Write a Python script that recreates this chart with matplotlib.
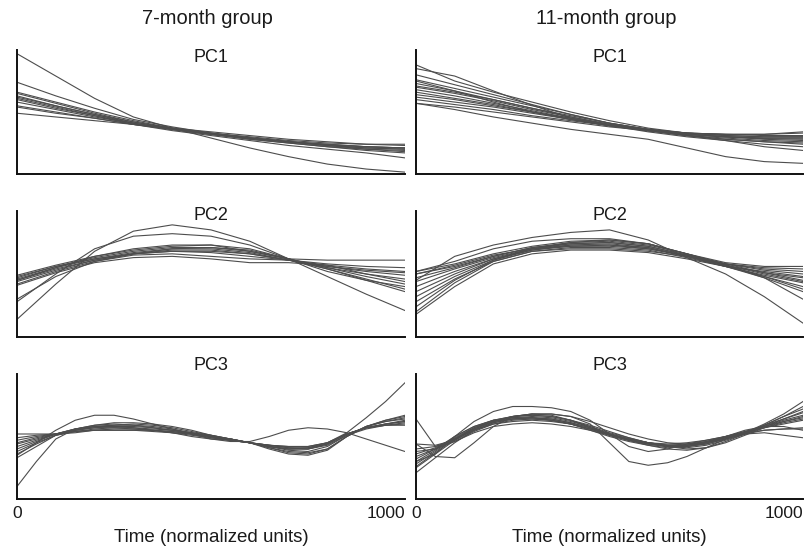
"""PC curves of the two age groups, one panel per component."""

import matplotlib
matplotlib.use('Agg')
import matplotlib.pyplot as plt
import numpy as np

plt.rcParams['font.family'] = ['Liberation Sans', 'DejaVu Sans']

# time samples (normalized units)
t_coarse = [0, 100, 200, 300, 400, 500, 600, 700, 800, 900, 1000]
t_fine = [0, 50, 100, 150, 200, 250, 300, 350, 400, 450, 500,
          550, 600, 650, 700, 750, 800, 850, 900, 950, 1000]

group_titles = ["7-month group", "11-month group"]
pc_titles = ["PC1", "PC2", "PC3"]
x_label = "Time (normalized units)"
tick_vals = [0, 1000]
tick_text = ["0", "1000"]

# curve values, 0 = axis line, 1 = top of y spine
pc1_7m = [
    [0.97, 0.79, 0.61, 0.46, 0.37, 0.29, 0.21, 0.14, 0.08, 0.04, 0.015],
    [0.74, 0.63, 0.53, 0.44, 0.38, 0.33, 0.29, 0.26, 0.24, 0.22, 0.21],
    [0.66, 0.58, 0.50, 0.43, 0.37, 0.33, 0.30, 0.27, 0.25, 0.24, 0.24],
    [0.65, 0.57, 0.49, 0.42, 0.37, 0.33, 0.29, 0.26, 0.23, 0.21, 0.20],
    [0.63, 0.55, 0.48, 0.42, 0.365, 0.325, 0.29, 0.26, 0.235, 0.22, 0.21],
    [0.62, 0.55, 0.48, 0.41, 0.36, 0.32, 0.28, 0.25, 0.22, 0.19, 0.17],
    [0.60, 0.53, 0.47, 0.41, 0.36, 0.32, 0.29, 0.26, 0.24, 0.22, 0.21],
    [0.58, 0.52, 0.46, 0.41, 0.36, 0.32, 0.28, 0.25, 0.22, 0.20, 0.19],
    [0.55, 0.50, 0.45, 0.40, 0.36, 0.32, 0.29, 0.26, 0.23, 0.21, 0.20],
    [0.54, 0.49, 0.45, 0.40, 0.36, 0.325, 0.29, 0.26, 0.23, 0.20, 0.18],
    [0.49, 0.46, 0.43, 0.40, 0.37, 0.34, 0.31, 0.28, 0.26, 0.24, 0.23],
    [0.61, 0.54, 0.47, 0.40, 0.35, 0.31, 0.27, 0.23, 0.20, 0.17, 0.13],
]

pc1_11m = [
    [0.85, 0.79, 0.67, 0.555, 0.45, 0.39, 0.35, 0.32, 0.30, 0.29, 0.29],
    [0.88, 0.75, 0.66, 0.58, 0.50, 0.43, 0.37, 0.33, 0.31, 0.30, 0.30],
    [0.80, 0.72, 0.64, 0.56, 0.48, 0.41, 0.36, 0.33, 0.32, 0.32, 0.34],
    [0.76, 0.69, 0.62, 0.55, 0.48, 0.41, 0.36, 0.32, 0.30, 0.29, 0.29],
    [0.73, 0.67, 0.60, 0.53, 0.47, 0.41, 0.36, 0.33, 0.31, 0.30, 0.30],
    [0.71, 0.66, 0.60, 0.53, 0.46, 0.40, 0.35, 0.31, 0.28, 0.26, 0.25],
    [0.70, 0.65, 0.59, 0.52, 0.46, 0.40, 0.355, 0.32, 0.30, 0.285, 0.28],
    [0.68, 0.63, 0.57, 0.51, 0.45, 0.40, 0.36, 0.33, 0.32, 0.31, 0.31],
    [0.66, 0.61, 0.56, 0.50, 0.45, 0.39, 0.35, 0.31, 0.28, 0.26, 0.24],
    [0.64, 0.60, 0.55, 0.50, 0.44, 0.39, 0.35, 0.32, 0.30, 0.28, 0.27],
    [0.62, 0.58, 0.54, 0.49, 0.44, 0.39, 0.34, 0.30, 0.27, 0.24, 0.22],
    [0.60, 0.56, 0.52, 0.47, 0.43, 0.39, 0.35, 0.31, 0.27, 0.22, 0.19],
    [0.57, 0.52, 0.46, 0.41, 0.36, 0.32, 0.28, 0.21, 0.14, 0.10, 0.086],
    [0.57, 0.54, 0.50, 0.46, 0.42, 0.38, 0.35, 0.33, 0.32, 0.32, 0.33],
    [0.75, 0.67, 0.58, 0.50, 0.44, 0.39, 0.35, 0.31, 0.29, 0.27, 0.26],
]

pc2_7m = [
    [0.14, 0.42, 0.68, 0.84, 0.89, 0.85, 0.76, 0.62, 0.48, 0.34, 0.21],
    [0.28, 0.50, 0.70, 0.80, 0.82, 0.80, 0.73, 0.62, 0.52, 0.45, 0.40],
    [0.45, 0.55, 0.64, 0.70, 0.73, 0.73, 0.68, 0.62, 0.61, 0.61, 0.61],
    [0.49, 0.57, 0.64, 0.69, 0.72, 0.73, 0.70, 0.62, 0.55, 0.50, 0.46],
    [0.47, 0.56, 0.63, 0.68, 0.71, 0.71, 0.68, 0.62, 0.55, 0.48, 0.42],
    [0.46, 0.55, 0.62, 0.67, 0.70, 0.70, 0.67, 0.61, 0.56, 0.52, 0.49],
    [0.45, 0.54, 0.61, 0.66, 0.68, 0.68, 0.66, 0.61, 0.54, 0.46, 0.38],
    [0.44, 0.53, 0.61, 0.66, 0.69, 0.69, 0.66, 0.61, 0.56, 0.53, 0.51],
    [0.42, 0.52, 0.60, 0.65, 0.66, 0.64, 0.62, 0.61, 0.57, 0.50, 0.44],
    [0.41, 0.51, 0.59, 0.63, 0.64, 0.62, 0.59, 0.59, 0.57, 0.54, 0.52],
    [0.30, 0.48, 0.60, 0.66, 0.70, 0.71, 0.69, 0.62, 0.54, 0.45, 0.36],
    [0.48, 0.56, 0.62, 0.66, 0.68, 0.67, 0.64, 0.61, 0.58, 0.56, 0.55],
]

pc2_11m = [
    [0.45, 0.64, 0.73, 0.79, 0.83, 0.85, 0.77, 0.63, 0.50, 0.32, 0.11],
    [0.52, 0.58, 0.66, 0.72, 0.76, 0.77, 0.74, 0.66, 0.58, 0.54, 0.52],
    [0.50, 0.56, 0.64, 0.71, 0.75, 0.76, 0.73, 0.66, 0.59, 0.56, 0.56],
    [0.47, 0.55, 0.64, 0.71, 0.74, 0.75, 0.72, 0.65, 0.57, 0.50, 0.44],
    [0.44, 0.54, 0.63, 0.70, 0.73, 0.74, 0.71, 0.64, 0.57, 0.51, 0.47],
    [0.40, 0.52, 0.62, 0.69, 0.72, 0.73, 0.71, 0.64, 0.56, 0.48, 0.40],
    [0.36, 0.50, 0.62, 0.70, 0.74, 0.75, 0.72, 0.65, 0.58, 0.53, 0.50],
    [0.32, 0.48, 0.61, 0.69, 0.73, 0.73, 0.70, 0.64, 0.56, 0.47, 0.36],
    [0.28, 0.46, 0.60, 0.68, 0.71, 0.71, 0.69, 0.63, 0.56, 0.49, 0.43],
    [0.24, 0.45, 0.61, 0.70, 0.75, 0.77, 0.74, 0.66, 0.57, 0.48, 0.38],
    [0.20, 0.43, 0.60, 0.68, 0.70, 0.70, 0.68, 0.64, 0.58, 0.55, 0.54],
    [0.52, 0.60, 0.70, 0.76, 0.78, 0.78, 0.74, 0.66, 0.57, 0.47, 0.30],
    [0.18, 0.40, 0.58, 0.66, 0.69, 0.69, 0.67, 0.62, 0.56, 0.52, 0.48],
    [0.50, 0.57, 0.65, 0.70, 0.72, 0.72, 0.70, 0.65, 0.58, 0.51, 0.45],
]

pc3_7m = [
    [0.52, 0.52, 0.52, 0.53, 0.55, 0.56, 0.56, 0.55, 0.54, 0.52, 0.50, 0.48, 0.45, 0.43, 0.42, 0.42, 0.45, 0.52, 0.57, 0.60, 0.62],
    [0.35, 0.45, 0.55, 0.63, 0.67, 0.67, 0.64, 0.60, 0.56, 0.52, 0.48, 0.47, 0.45, 0.42, 0.40, 0.41, 0.45, 0.53, 0.65, 0.78, 0.93],
    [0.40, 0.46, 0.52, 0.56, 0.58, 0.58, 0.57, 0.55, 0.53, 0.50, 0.48, 0.46, 0.46, 0.50, 0.55, 0.57, 0.56, 0.53, 0.48, 0.43, 0.38],
    [0.10, 0.30, 0.48, 0.56, 0.59, 0.60, 0.59, 0.57, 0.55, 0.52, 0.49, 0.47, 0.45, 0.41, 0.37, 0.36, 0.40, 0.50, 0.58, 0.63, 0.66],
    [0.44, 0.48, 0.52, 0.55, 0.57, 0.58, 0.58, 0.57, 0.55, 0.53, 0.50, 0.47, 0.45, 0.42, 0.39, 0.38, 0.42, 0.51, 0.58, 0.62, 0.65],
    [0.47, 0.50, 0.52, 0.54, 0.55, 0.55, 0.55, 0.55, 0.54, 0.52, 0.50, 0.48, 0.45, 0.42, 0.40, 0.40, 0.44, 0.52, 0.57, 0.60, 0.62],
    [0.38, 0.45, 0.51, 0.55, 0.57, 0.57, 0.56, 0.55, 0.53, 0.51, 0.49, 0.47, 0.45, 0.43, 0.42, 0.42, 0.45, 0.52, 0.57, 0.60, 0.63],
    [0.42, 0.47, 0.52, 0.56, 0.59, 0.61, 0.61, 0.60, 0.58, 0.55, 0.51, 0.48, 0.45, 0.40, 0.36, 0.35, 0.39, 0.50, 0.58, 0.62, 0.64],
    [0.36, 0.44, 0.51, 0.54, 0.55, 0.55, 0.55, 0.54, 0.53, 0.52, 0.50, 0.48, 0.45, 0.43, 0.41, 0.41, 0.44, 0.52, 0.57, 0.59, 0.60],
    [0.49, 0.51, 0.52, 0.55, 0.58, 0.59, 0.59, 0.58, 0.56, 0.53, 0.50, 0.47, 0.45, 0.41, 0.38, 0.37, 0.40, 0.50, 0.58, 0.63, 0.67],
    [0.33, 0.42, 0.51, 0.54, 0.56, 0.57, 0.57, 0.56, 0.55, 0.53, 0.51, 0.48, 0.45, 0.43, 0.41, 0.40, 0.43, 0.51, 0.56, 0.59, 0.61],
    [0.45, 0.49, 0.52, 0.56, 0.58, 0.59, 0.60, 0.59, 0.57, 0.54, 0.51, 0.48, 0.45, 0.42, 0.40, 0.40, 0.44, 0.52, 0.57, 0.59, 0.59],
]

pc3_11m = [
    [0.30, 0.36, 0.50, 0.62, 0.70, 0.74, 0.74, 0.73, 0.70, 0.63, 0.52, 0.42, 0.38, 0.40, 0.44, 0.47, 0.50, 0.54, 0.58, 0.63, 0.67],
    [0.40, 0.42, 0.48, 0.56, 0.62, 0.66, 0.68, 0.68, 0.66, 0.60, 0.45, 0.30, 0.27, 0.29, 0.34, 0.41, 0.48, 0.53, 0.57, 0.60, 0.63],
    [0.44, 0.34, 0.33, 0.45, 0.58, 0.66, 0.68, 0.67, 0.63, 0.57, 0.51, 0.47, 0.44, 0.42, 0.43, 0.46, 0.50, 0.54, 0.58, 0.62, 0.65],
    [0.64, 0.42, 0.46, 0.54, 0.60, 0.63, 0.64, 0.63, 0.60, 0.56, 0.52, 0.48, 0.45, 0.43, 0.43, 0.45, 0.49, 0.53, 0.57, 0.61, 0.64],
    [0.21, 0.33, 0.45, 0.55, 0.61, 0.64, 0.65, 0.64, 0.61, 0.57, 0.52, 0.48, 0.45, 0.43, 0.43, 0.45, 0.49, 0.53, 0.59, 0.66, 0.74],
    [0.25, 0.36, 0.47, 0.56, 0.62, 0.65, 0.66, 0.65, 0.62, 0.58, 0.53, 0.49, 0.45, 0.42, 0.41, 0.43, 0.47, 0.52, 0.58, 0.64, 0.70],
    [0.28, 0.38, 0.49, 0.57, 0.62, 0.64, 0.64, 0.63, 0.60, 0.56, 0.51, 0.47, 0.44, 0.42, 0.42, 0.44, 0.48, 0.53, 0.60, 0.68, 0.78],
    [0.32, 0.40, 0.50, 0.58, 0.63, 0.66, 0.67, 0.66, 0.63, 0.59, 0.54, 0.49, 0.45, 0.42, 0.40, 0.41, 0.45, 0.51, 0.57, 0.62, 0.66],
    [0.36, 0.41, 0.48, 0.55, 0.60, 0.62, 0.63, 0.62, 0.60, 0.56, 0.52, 0.48, 0.45, 0.44, 0.45, 0.47, 0.50, 0.53, 0.55, 0.56, 0.57],
    [0.44, 0.43, 0.47, 0.55, 0.61, 0.64, 0.65, 0.64, 0.61, 0.57, 0.52, 0.48, 0.45, 0.43, 0.44, 0.46, 0.49, 0.52, 0.55, 0.56, 0.56],
    [0.38, 0.40, 0.46, 0.53, 0.58, 0.60, 0.61, 0.60, 0.58, 0.55, 0.51, 0.47, 0.44, 0.42, 0.42, 0.45, 0.50, 0.55, 0.58, 0.58, 0.55],
    [0.30, 0.39, 0.50, 0.58, 0.63, 0.65, 0.65, 0.63, 0.60, 0.55, 0.50, 0.46, 0.43, 0.41, 0.42, 0.44, 0.48, 0.52, 0.53, 0.51, 0.49],
    [0.34, 0.40, 0.48, 0.56, 0.62, 0.66, 0.68, 0.68, 0.66, 0.62, 0.57, 0.52, 0.48, 0.45, 0.44, 0.45, 0.48, 0.53, 0.59, 0.64, 0.69],
    [0.26, 0.37, 0.48, 0.57, 0.63, 0.66, 0.67, 0.66, 0.63, 0.58, 0.52, 0.47, 0.43, 0.40, 0.39, 0.41, 0.46, 0.52, 0.59, 0.66, 0.72],
]

panels = [
    [(t_coarse, pc1_7m), (t_coarse, pc1_11m)],
    [(t_coarse, pc2_7m), (t_coarse, pc2_11m)],
    [(t_fine, pc3_7m), (t_fine, pc3_11m)],
]

W, H = 811, 551
col_px = [(17, 405), (416, 803)]       # left/right edge of each column
row_px = [(50, 174), (211, 337), (374, 499)]  # top/bottom of each row
pc_title_y = [57, 216, 366]

fig = plt.figure(figsize=(W / 100, H / 100), dpi=100)
line_col = '#4d4d4d'
txt_col = '#1a1a1a'

for r in range(3):
    for c in range(2):
        x0, x1 = col_px[c]
        top, bot = row_px[r]
        ax = fig.add_axes([x0 / W, 1 - bot / H, (x1 - x0) / W, (bot - top) / H])
        t, curves = panels[r][c]
        for y in curves:
            ax.plot(t, y, color=line_col, lw=0.8, solid_joinstyle='round')
        ax.set_xlim(0, 1000)
        ax.set_ylim(0, 1)
        for s in ['top', 'right']:
            ax.spines[s].set_visible(False)
        for s in ['left', 'bottom']:
            ax.spines[s].set_linewidth(1.4)
            ax.spines[s].set_color('#111111')
        ax.set_yticks([])
        if r == 2:
            ax.set_xticks(tick_vals)
            ax.set_xticklabels(tick_text, fontsize=12.5, color=txt_col)
            ax.tick_params(axis='x', length=0, pad=5)
            ax.get_xticklabels()[1].set_ha('right')
            fig.text((x0 + x1) / 2 / W, 1 - 537 / H, x_label,
                     ha='center', va='center', fontsize=13.5, color=txt_col)
        else:
            ax.set_xticks([])
        fig.text((x0 + x1) / 2 / W, 1 - pc_title_y[r] / H, pc_titles[r],
                 ha='center', va='center', fontsize=13, color=txt_col)
        if r == 0:
            fig.text((x0 + x1) / 2 / W - 0.004, 1 - 19 / H, group_titles[c],
                     ha='center', va='center', fontsize=14.5, color=txt_col)

fig.savefig('out.png', dpi=100, facecolor='white')
